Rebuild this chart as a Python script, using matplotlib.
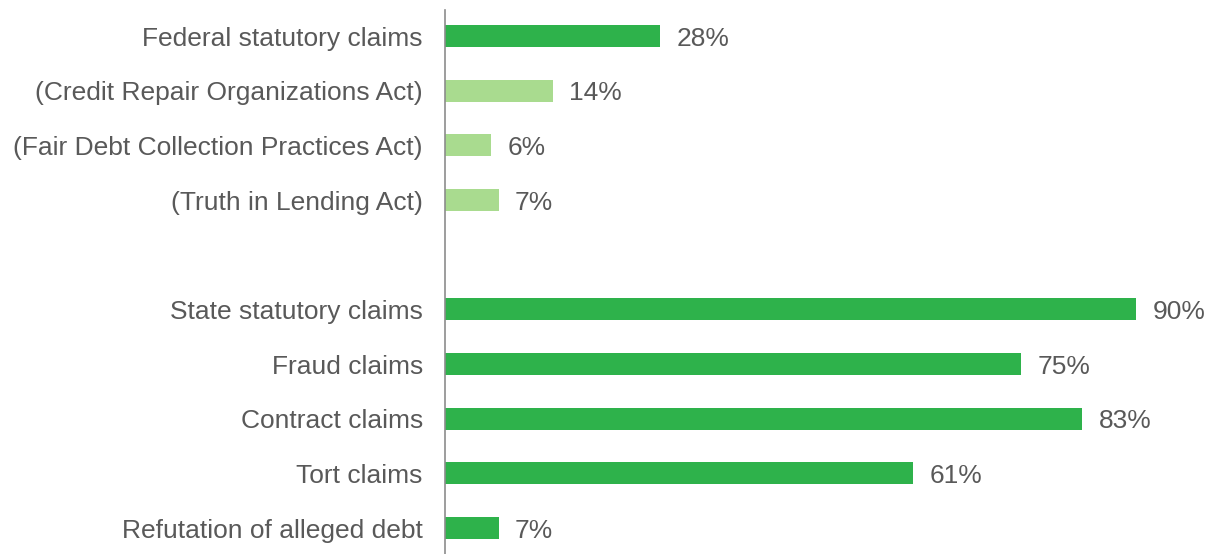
import matplotlib.pyplot as plt

# Row data (top to bottom); None marks the blank spacer row
labels = ['Federal statutory claims',
          '(Credit Repair Organizations Act)',
          '(Fair Debt Collection Practices Act)',
          '(Truth in Lending Act)',
          None,
          'State statutory claims',
          'Fraud claims',
          'Contract claims',
          'Tort claims',
          'Refutation of alleged debt']
values = [28, 14, 6, 7, None, 90, 75, 83, 61, 7]
is_sub = [False, True, True, True, None, False, False, False, False, False]

dark_green = '#2eb24b'
light_green = '#a9db8f'
text_color = '#595959'

plt.rcParams['font.family'] = ['Liberation Sans', 'DejaVu Sans']

fig = plt.figure(figsize=(12.1, 5.54), dpi=100)
ax = fig.add_axes([445 / 1210, 0, (1210 - 445) / 1210, (554 - 10) / 554])

ypos, yvals, ycols, ylabs = [], [], [], []
for i, (lab, v, sub) in enumerate(zip(labels, values, is_sub)):
    if lab is None:
        continue
    ypos.append(i)
    yvals.append(v)
    ycols.append(light_green if sub else dark_green)
    ylabs.append(lab)

ax.barh(ypos, yvals, height=0.4, color=ycols)
for y, v in zip(ypos, yvals):
    ax.text(v + 2.1, y, f'{v}%', va='center_baseline', ha='left',
            fontsize=19, color=text_color)

ax.set_yticks(ypos)
ax.set_yticklabels(ylabs, fontsize=19, color=text_color, va='center_baseline')
ax.tick_params(axis='y', length=0, pad=16)
ax.set_xticks([])
ax.set_xlim(0, (1210 - 445) / 7.68)
ax.set_ylim(9.475, -0.476)

for side in ['top', 'right', 'bottom']:
    ax.spines[side].set_visible(False)
ax.spines['left'].set_color('#8c8c8c')
ax.spines['left'].set_linewidth(1.2)

fig.savefig('out.png', dpi=100)
